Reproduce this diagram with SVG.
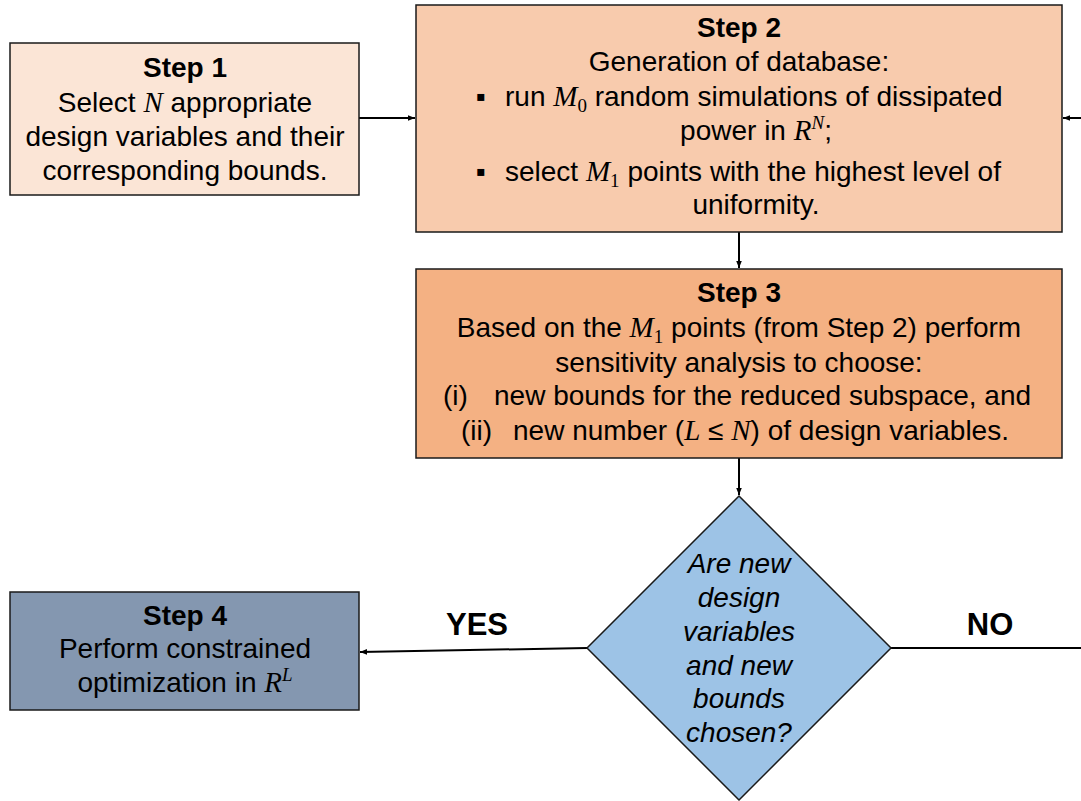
<svg xmlns="http://www.w3.org/2000/svg" width="1081" height="801" viewBox="0 0 1081 801">
<defs>
<marker id="arr" viewBox="0 0 10 10" refX="10" refY="5" markerWidth="7" markerHeight="7" orient="auto" markerUnits="userSpaceOnUse">
<path d="M0,1 L10,5 L0,9 z" fill="#000"/>
</marker>
<style>
.box{stroke:#1a1a1a;stroke-width:1.5}
.t{font-family:"Liberation Sans",Arial,sans-serif;font-size:28px;fill:#000;text-anchor:middle}
.s{text-anchor:start}
.b{font-weight:bold}
.lab{font-size:31px}
.m{font-family:"Liberation Serif","Times New Roman",serif;font-style:italic;font-size:29px}
.sub{font-family:"Liberation Serif","Times New Roman",serif;font-size:19px}
.sup{font-family:"Liberation Serif","Times New Roman",serif;font-style:italic;font-size:19px}
.i{font-style:italic}
.c{stroke:#000;stroke-width:2;fill:none}
</style>
</defs>
<g id="connectors">
<line class="c" x1="359" y1="118" x2="415" y2="118" marker-end="url(#arr)"/>
<line class="c" x1="739" y1="232" x2="739" y2="268" marker-end="url(#arr)"/>
<line class="c" x1="739" y1="458" x2="739" y2="495" marker-end="url(#arr)"/>
<line class="c" x1="587" y1="648" x2="360" y2="652" marker-end="url(#arr)"/>
<line class="c" x1="891" y1="648" x2="1081" y2="648"/>
<line class="c" x1="1081" y1="118" x2="1063" y2="118" marker-end="url(#arr)"/>
<text class="t b lab" x="477" y="635">YES</text>
<text class="t b lab" x="990" y="635">NO</text>
</g>
<g id="step1">
<rect class="box" x="10" y="43" width="349" height="152" fill="#FBE5D6"/>
<text class="t b" x="185" y="77">Step 1</text>
<text class="t" x="185" y="112">Select <tspan class="m">N</tspan> appropriate</text>
<text class="t" x="185" y="146">design variables and their</text>
<text class="t" x="185" y="180">corresponding bounds.</text>
</g>
<g id="step2">
<rect class="box" x="416" y="5" width="646" height="227" fill="#F8CBAD"/>
<text class="t b" x="739" y="37">Step 2</text>
<text class="t" x="739" y="71">Generation of database:</text>
<text class="t" x="481" y="106">▪</text>
<text class="t s" x="505" y="106">run <tspan class="m">M</tspan><tspan class="sub" dy="6">0</tspan><tspan dy="-6"> random simulations of dissipated</tspan></text>
<text class="t" x="756" y="140">power in <tspan class="m">R</tspan><tspan class="sup" dy="-11">N</tspan><tspan dy="11">;</tspan></text>
<text class="t" x="481" y="181">▪</text>
<text class="t s" x="505" y="181">select <tspan class="m">M</tspan><tspan class="sub" dy="6">1</tspan><tspan dy="-6"> points with the highest level of</tspan></text>
<text class="t" x="756" y="214">uniformity.</text>
</g>
<g id="step3">
<rect class="box" x="416" y="269" width="646" height="189" fill="#F4B183"/>
<text class="t b" x="739" y="302">Step 3</text>
<text class="t" x="739" y="337">Based on the <tspan class="m">M</tspan><tspan class="sub" dy="6">1</tspan><tspan dy="-6"> points (from Step 2) perform</tspan></text>
<text class="t" x="739" y="372">sensitivity analysis to choose:</text>
<text class="t s" x="443" y="405">(i)</text>
<text class="t s" x="494" y="405">new bounds for the reduced subspace, and</text>
<text class="t s" x="461" y="440">(ii)</text>
<text class="t s" x="513" y="440">new number (<tspan class="m">L</tspan> ≤ <tspan class="m">N</tspan>) of design variables.</text>
</g>
<g id="decision">
<polygon class="box" points="739,496 891,648 739,800 587,648" fill="#9DC3E6"/>
<text class="t i" x="739" y="573">Are new</text>
<text class="t i" x="739" y="607">design</text>
<text class="t i" x="739" y="641">variables</text>
<text class="t i" x="739" y="675">and new</text>
<text class="t i" x="739" y="708">bounds</text>
<text class="t i" x="739" y="742">chosen?</text>
</g>
<g id="step4">
<rect class="box" x="10" y="592" width="349" height="118" fill="#8497B0"/>
<text class="t b" x="185" y="625">Step 4</text>
<text class="t" x="185" y="658">Perform constrained</text>
<text class="t" x="185" y="692">optimization in <tspan class="m">R</tspan><tspan class="sup" dy="-11">L</tspan></text>
</g>
</svg>
